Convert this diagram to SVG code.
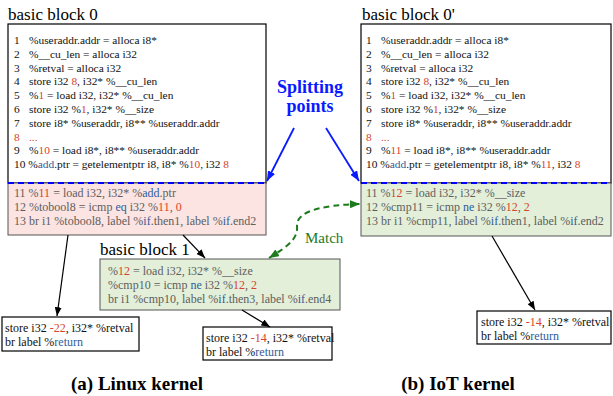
<svg xmlns="http://www.w3.org/2000/svg" width="613" height="396" viewBox="0 0 613 396" font-family="'Liberation Serif', 'Times New Roman', serif">
  <style>
    text { font-family: "Liberation Serif", "Times New Roman", serif; }
    .code { font-size: 12px; fill: #111; }
    .up { font-size: 11.4px; fill: #111; }
    .dim { font-size: 12px; fill: #5e5e5e; }
    .title { font-size: 17px; fill: #000; }
    .cap { font-size: 19px; font-weight: bold; fill: #000; }
    .r { fill: #d8432c; }
    .b { fill: #2f5d9a; }
    .box { fill: #fff; stroke: #000; stroke-width: 1.2; }
    .pink { fill: #fce4e2; stroke: #555; stroke-width: 1; }
    .green { fill: #e3efd9; stroke: #555; stroke-width: 1; }
    .split { stroke: #0000ff; stroke-width: 2; stroke-dasharray: 6 4; fill: none; }
    .edge { stroke: #000; stroke-width: 1.2; fill: none; marker-end: url(#ah); }
    .blue-edge { stroke: #0a1aff; stroke-width: 1.8; fill: none; marker-end: url(#ahb); }
    .match { stroke: #1d7a1d; stroke-width: 2; stroke-dasharray: 6 4; fill: none; marker-start: url(#ahg-s); marker-end: url(#ahg); }
  </style>
  <defs>
    <marker id="ah" markerUnits="userSpaceOnUse" viewBox="0 0 10 8" refX="10" refY="4" markerWidth="9" markerHeight="7" orient="auto">
      <path d="M0,0 L10,4 L0,8 Z" fill="#000"/>
    </marker>
    <marker id="ahb" markerUnits="userSpaceOnUse" viewBox="0 0 10 8" refX="10" refY="4" markerWidth="10" markerHeight="8" orient="auto">
      <path d="M0,0 L10,4 L0,8 Z" fill="#0a1aff"/>
    </marker>
    <marker id="ahg" markerUnits="userSpaceOnUse" viewBox="0 0 10 8" refX="10" refY="4" markerWidth="10" markerHeight="8" orient="auto">
      <path d="M0,0 L10,4 L0,8 Z" fill="#1d7a1d"/>
    </marker>
    <marker id="ahg-s" markerUnits="userSpaceOnUse" viewBox="0 0 10 8" refX="0" refY="4" markerWidth="10" markerHeight="8" orient="auto">
      <path d="M10,0 L0,4 L10,8 Z" fill="#1d7a1d"/>
    </marker>
  </defs>

  <!-- basic block 0 -->
  <g id="bb0">
    <text class="title" x="8" y="20">basic block 0</text>
    <rect class="box" x="8" y="24" width="258" height="159"/>
    <rect class="pink" x="8" y="183" width="258" height="52"/>
    <g class="up">
      <text x="14" y="44">1</text><text x="29" y="44">%useraddr.addr = alloca i8*</text>
      <text x="14" y="57.8">2</text><text x="29" y="57.8">%__cu_len = alloca i32</text>
      <text x="14" y="71.6">3</text><text x="29" y="71.6">%retval = alloca i32</text>
      <text x="14" y="85.4">4</text><text x="29" y="85.4">store i32 <tspan class="r">8</tspan>, i32* %__cu_len</text>
      <text x="14" y="99.2">5</text><text x="29" y="99.2">%<tspan class="r">1</tspan> = load i32, i32* %__cu_len</text>
      <text x="14" y="113">6</text><text x="29" y="113">store i32 %<tspan class="r">1</tspan>, i32* %__size</text>
      <text x="14" y="126.8">7</text><text x="29" y="126.8">store i8* %useraddr, i8** %useraddr.addr</text>
      <text x="14" y="140.6" class="r">8</text><text x="29" y="140.6" class="r">...</text>
      <text x="14" y="154.4">9</text><text x="29" y="154.4">%<tspan class="r">10</tspan> = load i8*, i8** %useraddr.addr</text>
      <text x="14" y="168.2">10 %<tspan class="b">add</tspan>.ptr = getelementptr i8, i8* %<tspan class="r">10</tspan>, i32 <tspan class="r">8</tspan></text>
    </g>
    <g class="dim">
      <text x="14" y="197">11 %<tspan class="r">11</tspan> = load i32, i32* %<tspan class="b">add</tspan>.ptr</text>
      <text x="14" y="211">12 %tobool8 = icmp <tspan class="b">eq</tspan> i32 %<tspan class="r">11</tspan>, <tspan class="r">0</tspan></text>
      <text x="14" y="225">13 br i1 %tobool8, label %<tspan class="b">if</tspan>.then1, label %<tspan class="b">if</tspan>.end2</text>
    </g>
    <line class="split" x1="8" y1="183" x2="266" y2="183"/>
  </g>

  <!-- basic block 0' -->
  <g id="bb0-prime">
    <text class="title" x="362" y="20">basic block 0'</text>
    <rect class="box" x="361" y="24" width="250" height="159"/>
    <rect class="green" x="361" y="183" width="250" height="53"/>
    <g class="up">
      <text x="366" y="44">1</text><text x="381" y="44">%useraddr.addr = alloca i8*</text>
      <text x="366" y="57.8">2</text><text x="381" y="57.8">%__cu_len = alloca i32</text>
      <text x="366" y="71.6">3</text><text x="381" y="71.6">%retval = alloca i32</text>
      <text x="366" y="85.4">4</text><text x="381" y="85.4">store i32 <tspan class="r">8</tspan>, i32* %__cu_len</text>
      <text x="366" y="99.2">5</text><text x="381" y="99.2">%<tspan class="r">1</tspan> = load i32, i32* %__cu_len</text>
      <text x="366" y="113">6</text><text x="381" y="113">store i32 %<tspan class="r">1</tspan>, i32* %__size</text>
      <text x="366" y="126.8">7</text><text x="381" y="126.8">store i8* %useraddr, i8** %useraddr.addr</text>
      <text x="366" y="140.6" class="r">8</text><text x="381" y="140.6" class="r">...</text>
      <text x="366" y="154.4">9</text><text x="381" y="154.4">%<tspan class="r">11</tspan> = load i8*, i8** %useraddr.addr</text>
      <text x="366" y="168.2">10 %<tspan class="b">add</tspan>.ptr = getelementptr i8, i8* %<tspan class="r">11</tspan>, i32 <tspan class="r">8</tspan></text>
    </g>
    <g class="dim">
      <text x="366" y="197">11 %<tspan class="r">12</tspan> = load i32, i32* %__size</text>
      <text x="366" y="211">12 %cmp11 = icmp <tspan class="b">ne</tspan> i32 %<tspan class="r">12</tspan>, <tspan class="r">2</tspan></text>
      <text x="366" y="225">13 br i1 %cmp11, label %<tspan class="b">if</tspan>.then1, label %<tspan class="b">if</tspan>.end2</text>
    </g>
    <line class="split" x1="361" y1="183" x2="611" y2="183"/>
  </g>

  <!-- basic block 1 -->
  <g id="bb1">
    <text class="title" x="100" y="255">basic block 1</text>
    <rect class="green" x="100" y="259" width="240" height="51"/>
    <g class="dim">
      <text x="108" y="275">%<tspan class="r">12</tspan> = load i32, i32* %__size</text>
      <text x="108" y="289">%cmp10 = icmp <tspan class="b">ne</tspan> i32 %<tspan class="r">12</tspan>, <tspan class="r">2</tspan></text>
      <text x="108" y="303">br i1 %cmp10, label %<tspan class="b">if</tspan>.then3, label %<tspan class="b">if</tspan>.end4</text>
    </g>
  </g>

  <!-- return blocks -->
  <g id="ret-a22">
    <rect class="box" x="2" y="317" width="137" height="34"/>
    <text class="code" x="5" y="332">store i32 <tspan class="r">-22</tspan>, i32* %retval</text>
    <text class="code" x="5" y="346">br label %<tspan class="b">return</tspan></text>
  </g>
  <g id="ret-a14">
    <rect class="box" x="203" y="327" width="129" height="33"/>
    <text class="code" x="206" y="342">store i32 <tspan class="r">-14</tspan>, i32* %retval</text>
    <text class="code" x="206" y="356">br label %<tspan class="b">return</tspan></text>
  </g>
  <g id="ret-b14">
    <rect class="box" x="477" y="311" width="134" height="33"/>
    <text class="code" x="481" y="326">store i32 <tspan class="r">-14</tspan>, i32* %retval</text>
    <text class="code" x="481" y="340">br label %<tspan class="b">return</tspan></text>
  </g>

  <!-- annotations -->
  <g id="split-label">
    <text x="310" y="93" text-anchor="middle" font-size="18" font-weight="bold" fill="#0a1aff">Splitting</text>
    <text x="310" y="112" text-anchor="middle" font-size="18" font-weight="bold" fill="#0a1aff">points</text>
  </g>
  <g id="match-label">
    <text x="305" y="243" font-size="15" fill="#1d7a1d">Match</text>
  </g>

  <!-- connectors -->
  <g id="connectors">
    <line class="edge" x1="68" y1="235" x2="57" y2="316"/>
    <line class="edge" x1="183" y1="235" x2="205" y2="258"/>
    <line class="edge" x1="242" y1="310" x2="270" y2="327"/>
    <line class="edge" x1="492" y1="236" x2="535" y2="310"/>
    <line class="blue-edge" x1="294" y1="128" x2="267" y2="181"/>
    <line class="blue-edge" x1="326" y1="128" x2="359" y2="181"/>
    <path class="match" d="M269,258 C290,245 298,238 297,226 C296,212 320,205 360,204"/>
  </g>

  <!-- captions -->
  <text class="cap" x="137" y="390" text-anchor="middle">(a) Linux kernel</text>
  <text class="cap" x="458" y="390" text-anchor="middle">(b) IoT kernel</text>
</svg>
